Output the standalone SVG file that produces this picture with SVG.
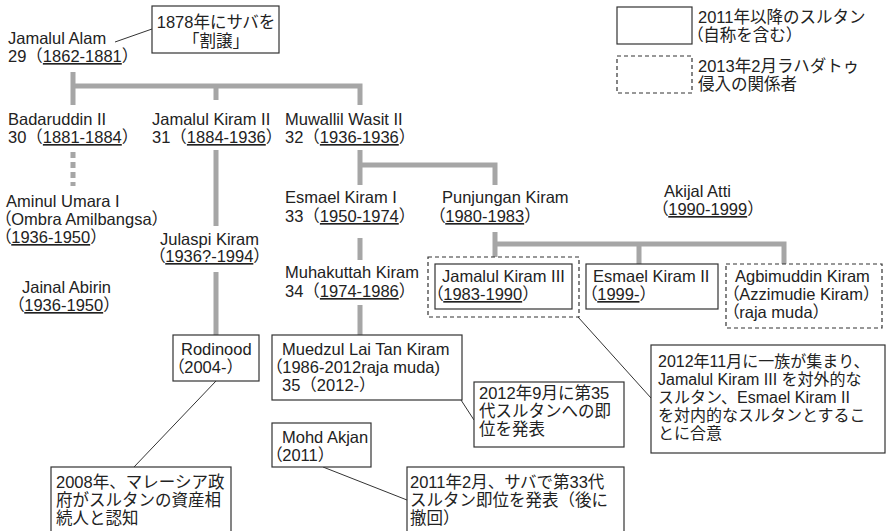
<svg xmlns="http://www.w3.org/2000/svg" width="886" height="531" viewBox="0 0 886 531">
<style>
text{font-family:"Liberation Sans","Noto Sans CJK JP",sans-serif;font-size:16.5px;fill:#222}
.u{text-decoration:underline}
.p{font-feature-settings:"palt"}
.sm{font-size:16px}
.box{fill:#fff;stroke:#333;stroke-width:1.2}
.dbox{fill:none;stroke:#333;stroke-width:1.2;stroke-dasharray:4 3}
.tree{fill:none;stroke:#a6a6a6;stroke-width:5}
.tdash{fill:none;stroke:#a6a6a6;stroke-width:5;stroke-dasharray:6 4}
.lead{fill:none;stroke:#333;stroke-width:1}
</style>
<rect width="886" height="531" fill="#fff"/>
<g id="connectors">
<path class="tree" d="M73 72V105M73 86H360V105M216 86V100"/>
<path class="tdash" d="M73 152V186"/>
<path class="tree" d="M216 150V226M216 272V335"/>
<path class="tree" d="M360 150V185M360 165H495V185"/>
<path class="tree" d="M360 238V260M360 305V335"/>
<path class="tree" d="M495 232V257M495 244H784V264M639 244V264"/>
<path class="lead" d="M115 42L152 29"/>
<path class="lead" d="M216 381L134 467"/>
<path class="lead" d="M461 400L474 420"/>
<path class="lead" d="M323 467L407 500"/>
<path class="lead" d="M578 317L651 398"/>
</g>
<g id="legend">
<rect class="box" x="617" y="7" width="75" height="37"/>
<text x="698" y="23">2011年以降のスルタン</text>
<text x="695" y="41"><tspan class="p">（</tspan>自称を含む）</text>
<rect class="dbox" x="617" y="56" width="75" height="37"/>
<text x="698" y="72">2013年2月ラハダトゥ</text>
<text x="698" y="90">侵入の関係者</text>
</g>
<g id="n-jamalul-alam">
<text x="8" y="44">Jamalul Alam</text>
<text x="8" y="62">29（<tspan class="u">1862-1881</tspan>）</text>
</g>
<g id="note-1878">
<rect class="box" x="152" y="6" width="127" height="47"/>
<text x="216" y="28" text-anchor="middle">1878年にサバを</text>
<text x="216" y="47" text-anchor="middle">「割譲」</text>
</g>
<g id="n-badaruddin">
<text x="8" y="125">Badaruddin II</text>
<text x="8" y="143">30（<tspan class="u">1881-1884</tspan>）</text>
</g>
<g id="n-jamalul-kiram2">
<text x="152" y="125">Jamalul Kiram II</text>
<text x="152" y="143">31（<tspan class="u">1884-1936</tspan>）</text>
</g>
<g id="n-muwallil">
<text x="285" y="125">Muwallil Wasit II</text>
<text x="285" y="143">32（<tspan class="u">1936-1936</tspan>）</text>
</g>
<g id="n-aminul">
<text x="6" y="207">Aminul Umara I</text>
<text x="3" y="225"><tspan class="p">（</tspan>Ombra Amilbangsa）</text>
<text x="3" y="243"><tspan class="p">（</tspan><tspan class="u">1936-1950</tspan>）</text>
</g>
<g id="n-julaspi">
<text x="160" y="245">Julaspi Kiram</text>
<text x="157" y="262"><tspan class="p">（</tspan><tspan class="u">1936?-1994</tspan>）</text>
</g>
<g id="n-jainal">
<text x="22" y="293">Jainal Abirin</text>
<text x="16" y="311"><tspan class="p">（</tspan><tspan class="u">1936-1950</tspan>）</text>
</g>
<g id="n-esmael1">
<text x="285" y="203">Esmael Kiram I</text>
<text x="285" y="222">33（<tspan class="u">1950-1974</tspan>）</text>
</g>
<g id="n-punjungan">
<text x="442" y="203">Punjungan Kiram</text>
<text x="437" y="222"><tspan class="p">（</tspan><tspan class="u">1980-1983</tspan>）</text>
</g>
<g id="n-muhakuttah">
<text x="285" y="278">Muhakuttah Kiram</text>
<text x="285" y="297">34（<tspan class="u">1974-1986</tspan>）</text>
</g>
<g id="n-akijal">
<text x="664" y="197">Akijal Atti</text>
<text x="660" y="215"><tspan class="p">（</tspan><tspan class="u">1990-1999</tspan>）</text>
</g>
<g id="n-jamalul-kiram3">
<rect class="dbox" x="428" y="257" width="151" height="60"/>
<rect class="box" x="435" y="264" width="137" height="45"/>
<text x="442" y="282">Jamalul Kiram III</text>
<text x="435" y="300"><tspan class="p">（</tspan><tspan class="u">1983-1990</tspan>）</text>
</g>
<g id="n-esmael2">
<rect class="box" x="586" y="264" width="132" height="45"/>
<text x="593" y="282">Esmael Kiram II</text>
<text x="589" y="300"><tspan class="p">（</tspan><tspan class="u">1999-</tspan>）</text>
</g>
<g id="n-agbimuddin">
<rect class="dbox" x="726" y="264" width="156" height="64"/>
<text x="735" y="282">Agbimuddin Kiram</text>
<text x="731" y="300"><tspan class="p">（</tspan>Azzimudie Kiram）</text>
<text x="731" y="318"><tspan class="p">（</tspan>raja muda）</text>
</g>
<g id="n-rodinood">
<rect class="box" x="173" y="335" width="86" height="46"/>
<text x="181" y="355">Rodinood</text>
<text x="176" y="373"><tspan class="p">（</tspan>2004-）</text>
</g>
<g id="n-muedzul">
<rect class="box" x="272" y="335" width="190" height="65"/>
<text x="282" y="355">Muedzul Lai Tan Kiram</text>
<text x="274" y="373"><tspan class="p">（</tspan>1986-2012raja muda)</text>
<text x="282" y="391">35（2012-）</text>
</g>
<g id="n-mohd-akjan">
<rect class="box" x="272" y="423" width="99" height="44"/>
<text x="282" y="443">Mohd Akjan</text>
<text x="274" y="461"><tspan class="p">（</tspan>2011）</text>
</g>
<g id="note-2012-9">
<rect class="box" x="474" y="382" width="150" height="65"/>
<text x="479" y="399">2012年9月に第35</text>
<text x="479" y="417">代スルタンへの即</text>
<text x="479" y="435">位を発表</text>
</g>
<g id="note-2011-2">
<rect class="box" x="407" y="467" width="217" height="80"/>
<text x="410" y="488">2011年2月、サバで第33代</text>
<text x="410" y="506">スルタン即位を発表（後に</text>
<text x="410" y="524">撤回）</text>
</g>
<g id="note-2008">
<rect class="box" x="51" y="467" width="180" height="80"/>
<text x="56" y="488">2008年、マレーシア政</text>
<text x="56" y="506">府がスルタンの資産相</text>
<text x="56" y="524">続人と認知</text>
</g>
<g id="note-2012-11">
<rect class="box" x="651" y="345" width="234" height="108"/>
<text class="sm" x="658" y="367">2012年11月に一族が集まり、</text>
<text class="sm" x="658" y="385">Jamalul Kiram III を対外的な</text>
<text class="sm" x="658" y="403">スルタン、Esmael Kiram II</text>
<text class="sm" x="658" y="421">を対内的なスルタンとするこ</text>
<text class="sm" x="658" y="439">とに合意</text>
</g>
</svg>
